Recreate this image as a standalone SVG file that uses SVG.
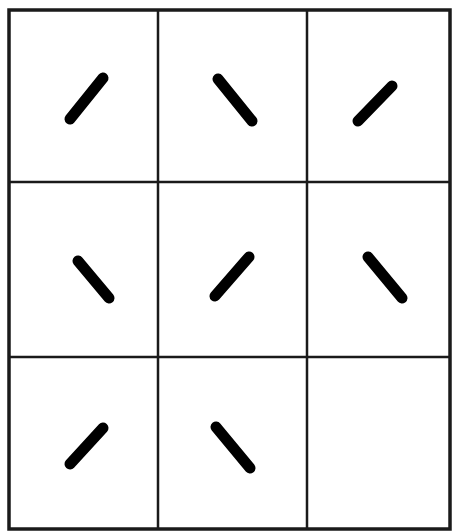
<svg xmlns="http://www.w3.org/2000/svg" width="452" height="531" viewBox="0 0 452 531">
<style>
.grid{stroke:#1a1a1a;stroke-width:2.5;fill:none}
.bar{stroke:#000;stroke-width:11;stroke-linecap:round}
</style>
<rect width="452" height="531" fill="#fff"/>
<g id="grid">
<rect class="grid" x="9" y="10" width="441" height="519" style="stroke-width:3.5"/>
<line class="grid" x1="158" y1="10" x2="158" y2="529"/>
<line class="grid" x1="307" y1="10" x2="307" y2="529"/>
<line class="grid" x1="9" y1="182" x2="450" y2="182"/>
<line class="grid" x1="9" y1="357" x2="450" y2="357"/>
</g>
<g id="cell-1-1"><line class="bar" x1="70" y1="119" x2="103" y2="78"/></g>
<g id="cell-1-2"><line class="bar" x1="218" y1="79" x2="252" y2="121"/></g>
<g id="cell-1-3"><line class="bar" x1="358" y1="121" x2="392" y2="86"/></g>
<g id="cell-2-1"><line class="bar" x1="78" y1="261" x2="109" y2="298"/></g>
<g id="cell-2-2"><line class="bar" x1="215" y1="296" x2="249" y2="257"/></g>
<g id="cell-2-3"><line class="bar" x1="368" y1="257" x2="402" y2="298"/></g>
<g id="cell-3-1"><line class="bar" x1="70" y1="464" x2="103" y2="428"/></g>
<g id="cell-3-2"><line class="bar" x1="216" y1="427" x2="250" y2="468"/></g>
<g id="cell-3-3"></g>
</svg>
